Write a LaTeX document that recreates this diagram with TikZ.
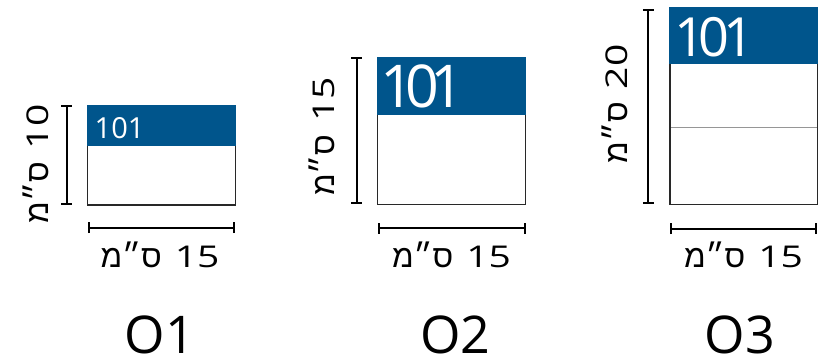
\documentclass[tikz,border=0pt]{standalone}
\usepackage{fontspec}
\setmainfont{Open Sans}
\newfontfamily\hebfont[Script=Hebrew]{Liberation Sans}
\newfontfamily\osfont{Open Sans}
\newfontfamily\digfont[FakeStretch=1.3]{Open Sans}
\TeXXeTstate=1
\definecolor{bandblue}{RGB}{0,85,140}
\definecolor{boxline}{RGB}{40,40,40}
\definecolor{midgray}{RGB}{150,150,150}
\newcommand{\cmlabel}[1]{\beginR\beginL{\digfont\fontsize{30}{32}\selectfont #1}\endL\hspace{13pt}{\hebfont\fontsize{31.5}{33}\selectfont ס״מ}\endR}
\newcommand{\tightnum}[1]{1\kern#1 0\kern#1 1}
\begin{document}
\begin{tikzpicture}[x=1pt,y=-1pt,
  roombox/.style={draw=boxline,line width=1.5pt},
  band/.style={fill=bandblue},
  dimline/.style={draw=black,line width=1.8pt},
  dimtxt/.style={inner sep=0pt,anchor=base},
  numtxt/.style={inner sep=0pt,text=white,anchor=base west},
  bigtxt/.style={inner sep=0pt,anchor=base,font=\osfont\fontsize{52}{56}\selectfont}]
\useasboundingbox (0,0) rectangle (825,358);
% ---------- O1 ----------
\coordinate (a1) at (87.7,106);
\coordinate (b1) at (235.7,205);
\draw[roombox] (a1) rectangle (b1);
\fill[band] (86.95,105.25) rectangle (236.45,145.7);
\node[numtxt,font=\osfont\fontsize{29}{32}\selectfont] (n1) at (94.5,138.3) {101};
\coordinate (v1t) at (66.7,106);
\coordinate (v1b) at (66.7,204);
\draw[dimline] (v1t) -- (v1b);
\draw[dimline] ([xshift=-5.5pt]v1t) -- ([xshift=5.5pt]v1t);
\draw[dimline] ([xshift=-5.5pt]v1b) -- ([xshift=5.5pt]v1b);
\coordinate (h1l) at (89,227.7);
\coordinate (h1r) at (234,227.7);
\draw[dimline] (h1l) -- (h1r);
\draw[dimline] ([yshift=-5.5pt]h1l) -- ([yshift=5.5pt]h1l);
\draw[dimline] ([yshift=-5.5pt]h1r) -- ([yshift=5.5pt]h1r);
\node[dimtxt] (w1) at (160,268) {\cmlabel{15}};
\node[dimtxt,rotate=90] (d1) at (48,164) {\cmlabel{10}};
\node[bigtxt] (o1) at (160,353) {O1};
% ---------- O2 ----------
\coordinate (a2) at (377.7,57.3);
\coordinate (b2) at (525.7,204.3);
\draw[roombox] (a2) rectangle (b2);
\fill[band] (376.95,56.55) rectangle (526.45,114.7);
\node[numtxt,font=\osfont\fontsize{59}{62}\selectfont] (n2) at (380,107.8) {\tightnum{-0.15em}};
\coordinate (v2t) at (356.7,58);
\coordinate (v2b) at (356.7,203);
\draw[dimline] (v2t) -- (v2b);
\draw[dimline] ([xshift=-5.5pt]v2t) -- ([xshift=5.5pt]v2t);
\draw[dimline] ([xshift=-5.5pt]v2b) -- ([xshift=5.5pt]v2b);
\coordinate (h2l) at (379,228.3);
\coordinate (h2r) at (525,228.3);
\draw[dimline] (h2l) -- (h2r);
\draw[dimline] ([yshift=-5.5pt]h2l) -- ([yshift=5.5pt]h2l);
\draw[dimline] ([yshift=-5.5pt]h2r) -- ([yshift=5.5pt]h2r);
\node[dimtxt] (w2) at (451.5,267.5) {\cmlabel{15}};
\node[dimtxt,rotate=90] (d2) at (334,136.5) {\cmlabel{15}};
\node[bigtxt] (o2) at (455.5,353) {O2};
% ---------- O3 ----------
\coordinate (a3) at (670,7.3);
\coordinate (b3) at (817.7,204.3);
\draw[midgray,line width=1.3pt] (670,127.7) -- (817.7,127.7);
\draw[roombox] (a3) rectangle (b3);
\fill[band] (669.25,6.55) rectangle (818.45,64.3);
\node[numtxt,font=\osfont\fontsize{54}{57}\selectfont] (n3) at (674,56.7) {\tightnum{-0.12em}};
\coordinate (v3t) at (648.3,10);
\coordinate (v3b) at (648.3,203);
\draw[dimline] (v3t) -- (v3b);
\draw[dimline] ([xshift=-5.5pt]v3t) -- ([xshift=5.5pt]v3t);
\draw[dimline] ([xshift=-5.5pt]v3b) -- ([xshift=5.5pt]v3b);
\coordinate (h3l) at (671,228.7);
\coordinate (h3r) at (816.3,228.7);
\draw[dimline] (h3l) -- (h3r);
\draw[dimline] ([yshift=-5.5pt]h3l) -- ([yshift=5.5pt]h3l);
\draw[dimline] ([yshift=-5.5pt]h3r) -- ([yshift=5.5pt]h3r);
\node[dimtxt] (w3) at (743.5,267.5) {\cmlabel{15}};
\node[dimtxt,rotate=90] (d3) at (627,104) {\cmlabel{20}};
\node[bigtxt] (o3) at (740,353) {O3};
\end{tikzpicture}
\end{document}
